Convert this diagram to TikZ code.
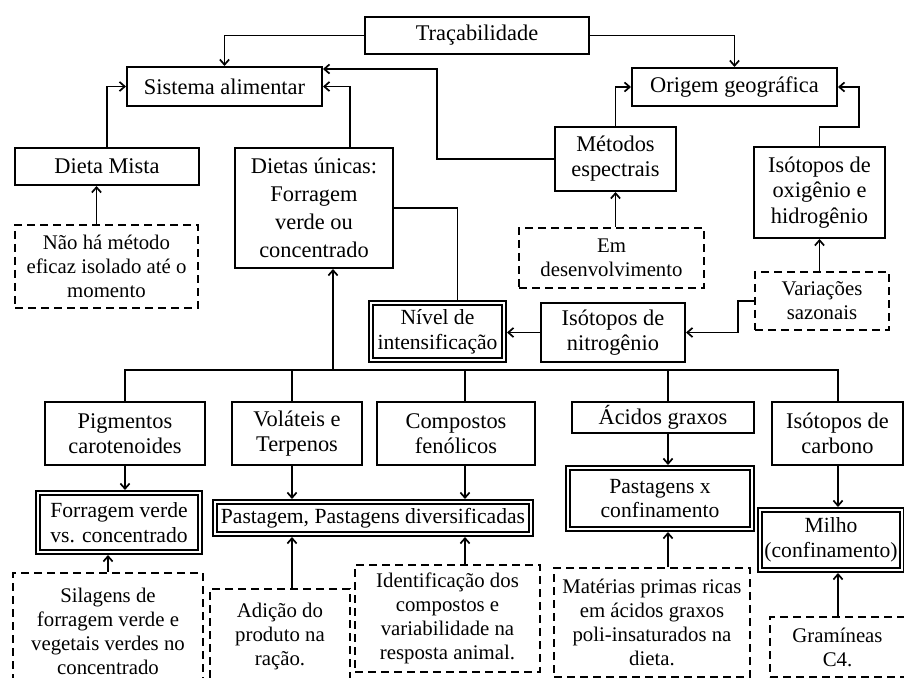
\documentclass[tikz,border=0pt]{standalone}
\usepackage{fontspec}
\setmainfont{Liberation Serif}
\usetikzlibrary{arrows.meta}
\tikzset{
	bx/.style={draw, line width=1pt, inner sep=1pt, align=center, font=\fontsize{11.2}{12.6}\selectfont},
	dbx/.style={bx, double, double distance=1pt, outer sep=1.5pt, font=\fontsize{10.8}{12.4}\selectfont},
	dsh/.style={bx, dash pattern=on 4pt off 2.5pt, font=\fontsize{10.4}{12}\selectfont},
	ln/.style={line width=0.85pt},
	arr/.style={ln, -{Straight Barb[length=2.6pt,width=4.6pt]}}
}

\begin{document}
\begin{tikzpicture}[x=0.5pt, y=-0.5pt]
			%%%%% START %%%%%
			\useasboundingbox (0,0) rectangle (904,678);
			
			% upper part
			\node[bx, minimum width=112pt, minimum height=18.5pt] (trac) at (477,35.5) {Traçabilidade};
			\node[bx, minimum width=97.5pt, minimum height=19.5pt] (sis) at (224.5,86.5) {Sistema alimentar};
			\node[bx, minimum width=102.5pt, minimum height=19pt] (orig) at (734.5,87) {Origem geográfica};
			\node[bx, minimum width=92pt, minimum height=18.5pt] (mista) at (107,166.5) {Dieta Mista};
			\node[bx, minimum width=79pt, minimum height=60pt, font=\fontsize{11.2}{14}\selectfont] (unic) at (314,208) {Dietas únicas:\\Forragem\\verde ou\\concentrado};
			\node[bx, minimum width=60.5pt, minimum height=32pt] (met) at (615.5,159) {Métodos\\espectrais};
			\node[bx, minimum width=65.5pt, minimum height=45.5pt] (oxi) at (819.5,192.5) {Isótopos de\\oxigênio e\\hidrogênio};
			\node[dsh, minimum width=91.5pt, minimum height=41.5pt] (nao) at (106.5,266.5) {Não há método\\eficaz isolado até o\\momento};
			\node[dsh, minimum width=92.5pt, minimum height=30pt] (des) at (611.5,258) {Em\\desenvolvimento};
			\node[dsh, minimum width=67pt, minimum height=29pt] (var) at (822,301) {Variações\\sazonais};
			\node[dbx, minimum width=66.5pt, minimum height=28.5pt] (niv) at (437.5,331.5) {Nível de\\intensificação};
			\node[bx, minimum width=72pt, minimum height=29.5pt] (nit) at (613,332.5) {Isótopos de\\nitrogênio};
			
			% lower part
			\node[bx, minimum width=80pt, minimum height=31.5pt] (pig) at (125,433.5) {Pigmentos\\carotenoides};
			\node[bx, minimum width=65pt, minimum height=31.5pt] (vol) at (297,433.5) {Voláteis e\\Terpenos};
			\node[bx, minimum width=79pt, minimum height=31.5pt] (comp) at (456,433.5) {Compostos\\fenólicos};
			\node[bx, minimum width=91pt, minimum height=15.5pt] (acid) at (663,417.5) {Ácidos graxos};
			\node[bx, minimum width=65.5pt, minimum height=31.5pt] (carb) at (837.5,433.5) {Isótopos de\\carbono};
			\node[dbx, minimum width=81pt, minimum height=29.5pt] (forr) at (119,522.5) {Forragem verde\\vs. concentrado};
			\node[dbx, minimum width=158pt, minimum height=16pt, inner sep=0pt] (past) at (373,518) {Pastagem, Pastagens diversificadas};
			\node[dbx, minimum width=92pt, minimum height=30.5pt] (pxc) at (660,498.5) {Pastagens x\\confinamento};
			\node[dbx, minimum width=71pt, minimum height=30pt] (mil) at (831,540) {Milho\\(confinamento)};
			\node[dsh, minimum width=95pt, minimum height=58.5pt] (sil) at (108,631.5) {Silagens de\\forragem verde e\\vegetais verdes no\\concentrado};
			\node[dsh, minimum width=70pt, minimum height=47pt] (adi) at (280,636) {Adição do\\produto na\\ração.};
			\node[dsh, minimum width=92.5pt, minimum height=53.5pt] (ide) at (447.5,618.5) {Identificação dos\\compostos e\\variabilidade na\\resposta animal.};
			\node[dsh, minimum width=98pt, minimum height=54.5pt] (mat) at (652,622.5) {Matérias primas ricas\\em ácidos graxos\\poli-insaturados na\\dieta.};
			\node[dsh, minimum width=67.5pt, minimum height=30pt] (gra) at (837.5,647) {Gramíneas\\C4.};
			
			\coordinate (bus) at (333,370);
			\coordinate (cv) at (292,0);
			\coordinate (cc) at (465,0);
			\coordinate (ca) at (668,0);
			\coordinate (ck) at (838,0);
			\coordinate (k1) at (437,69);
			\coordinate (k2) at (859,127);
			
			% connectors
			\draw[arr] (trac.west) -| (sis.north);
			\draw[arr] (trac.east) -| (orig.north);
			\draw[arr] (mista.north) |- (sis.west);
			\draw[arr] ([xshift=18pt]unic.north) |- (sis.east);
			\draw[arr] (met.west) -| (k1) -- (k1 -| sis.east);
			\draw[arr] (met.north) |- (orig.west);
			\draw[arr] (oxi.north) |- (k2) |- (orig.east);
			\draw[arr] ([xshift=-5pt]nao.north) -- ([xshift=-5pt]nao.north |- mista.south);
			\draw[arr] (des.north -| met.south) -- (met.south);
			\draw[arr] (var.north -| oxi.south) -- (oxi.south);
			\draw[arr] (var.west) -- ++(-16,0) |- (nit.east);
			\draw[arr] (nit.west) -- (nit.west -| niv.east);
			\draw[ln] (unic.east) -| ([xshift=10pt]niv.north);
			
			\draw[ln] (pig.north) |- (ck |- bus) -- (ck |- carb.north);
			\foreach \c in {cv,cc,ca} \draw[ln] (\c |- bus) -- (\c |- vol.north);
			\draw[arr] (bus) -- (bus |- unic.south);
			
			\draw[arr] (pig.south) -- (pig.south |- forr.north);
			\draw[arr] (cv |- vol.south) -- (cv |- past.north);
			\draw[arr] (cc |- comp.south) -- (cc |- past.north);
			\draw[arr] (ca |- acid.south) -- (ca |- pxc.north);
			\draw[arr] (ck |- carb.south) -- (ck |- mil.north);
			\draw[arr] (sil.north) -- (sil.north |- forr.south);
			\draw[arr] (cv |- adi.north) -- (cv |- past.south);
			\draw[arr] (cc |- ide.north) -- (cc |- past.south);
			\draw[arr] (ca |- mat.north) -- (ca |- pxc.south);
			\draw[arr] (ck |- gra.north) -- (ck |- mil.south);
			
			%%%%% END %%%%%
\end{tikzpicture}
\end{document}
